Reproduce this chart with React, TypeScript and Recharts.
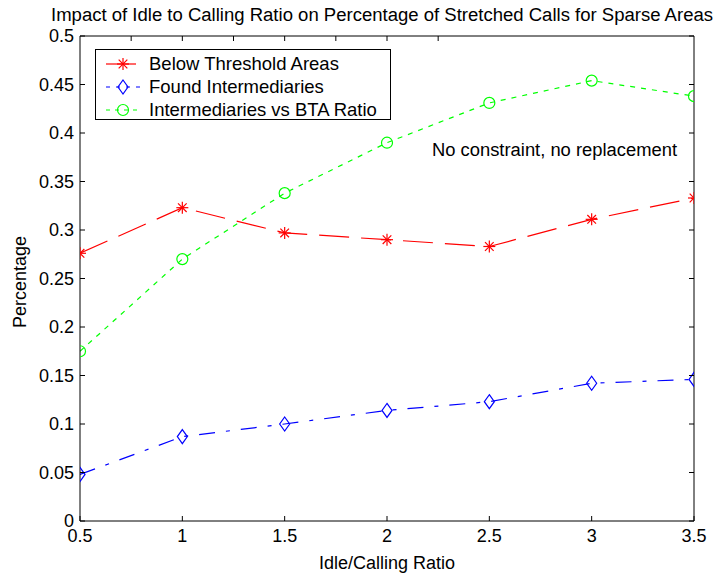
import React from "react";
import { LineChart, Line, XAxis, YAxis, Legend } from "recharts";

const ratios = [0.5, 1, 1.5, 2, 2.5, 3, 3.5];
const belowThreshold = [0.276, 0.323, 0.297, 0.29, 0.283, 0.311, 0.333];
const foundIntermediaries = [0.048, 0.087, 0.1, 0.114, 0.123, 0.142, 0.146];
const btaRatio = [0.175, 0.27, 0.338, 0.39, 0.431, 0.454, 0.438];

const xTicks = [0.5, 1, 1.5, 2, 2.5, 3, 3.5];
const yTicks = [0, 0.05, 0.1, 0.15, 0.2, 0.25, 0.3, 0.35, 0.4, 0.45, 0.5];

const seriesNames = ["Below Threshold Areas", "Found Intermediaries", "Intermediaries vs BTA Ratio"];

const chartData = ratios.map((r, i) => ({
  ratio: r,
  below: belowThreshold[i],
  found: foundIntermediaries[i],
  bta: btaRatio[i],
}));

const FONT = '"Liberation Sans", Arial, Helvetica, sans-serif';
const INK = "#000";
const FS = 18;

const RED = "#ff0000";
const BLUE = "#0000ff";
const GREEN = "#00ff00";

// matlab style: ticks point inward, labels only on bottom/left
function BottomTick({ x, y, payload }: any) {
  return (
    <g>
      <line x1={x} y1={y} x2={x} y2={y - 5} stroke={INK} />
      <text x={x} y={y + 21} textAnchor="middle" fontSize={FS} fill={INK} fontFamily={FONT}>
        {payload.value}
      </text>
    </g>
  );
}

function TopTick({ x, y }: any) {
  return <line x1={x} y1={y} x2={x} y2={y + 5} stroke={INK} />;
}

function LeftTick({ x, y, payload }: any) {
  return (
    <g>
      <line x1={x} y1={y} x2={x + 5} y2={y} stroke={INK} />
      <text x={x - 6} y={y + 6} textAnchor="end" fontSize={FS} fill={INK} fontFamily={FONT}>
        {payload.value}
      </text>
    </g>
  );
}

function RightTick({ x, y }: any) {
  return <line x1={x} y1={y} x2={x - 5} y2={y} stroke={INK} />;
}

function Asterisk({ cx, cy, r = 6 }: any) {
  if (cx == null || cy == null) return null;
  const d = r * 0.72;
  return (
    <g stroke={RED} strokeWidth={1.2}>
      <line x1={cx - r} y1={cy} x2={cx + r} y2={cy} />
      <line x1={cx} y1={cy - r} x2={cx} y2={cy + r} />
      <line x1={cx - d} y1={cy - d} x2={cx + d} y2={cy + d} />
      <line x1={cx - d} y1={cy + d} x2={cx + d} y2={cy - d} />
    </g>
  );
}

function Diamond({ cx, cy }: any) {
  if (cx == null || cy == null) return null;
  return (
    <polygon
      points={`${cx},${cy - 7} ${cx + 5},${cy} ${cx},${cy + 7} ${cx - 5},${cy}`}
      fill="none"
      stroke={BLUE}
      strokeWidth={1.2}
    />
  );
}

function Ring({ cx, cy }: any) {
  if (cx == null || cy == null) return null;
  return <circle cx={cx} cy={cy} r={5.5} fill="none" stroke={GREEN} strokeWidth={1.2} />;
}

const legendRows = [
  { name: seriesNames[0], color: RED, dash: "30 12", Marker: Asterisk },
  { name: seriesNames[1], color: BLUE, dash: "4 6", Marker: Diamond },
  { name: seriesNames[2], color: GREEN, dash: "4 5", Marker: Ring },
];

function LegendBox() {
  return (
    <div
      style={{
        border: `1px solid ${INK}`,
        background: "#fff",
        width: 296,
        height: 71,
        boxSizing: "border-box",
        paddingTop: 2,
        fontFamily: FONT,
        fontSize: 18.5,
        color: INK,
      }}
    >
      {legendRows.map((row) => (
        <div key={row.name} style={{ display: "flex", alignItems: "center", height: 23, whiteSpace: "nowrap" }}>
          <svg width={53} height={20} style={{ flex: "none" }}>
            <line x1={10} y1={10} x2={44} y2={10} stroke={row.color} strokeWidth={1.2} strokeDasharray={row.dash} />
            <row.Marker cx={27} cy={10} r={6} />
          </svg>
          <span>{row.name}</span>
        </div>
      ))}
    </div>
  );
}

export default function App() {
  return (
    <div style={{ position: "absolute", left: 0, top: 0, width: 718, height: 575, background: "#fff" }}>
      <LineChart width={718} height={575} data={chartData} margin={{ top: 0, right: 0, bottom: 0, left: 0 }}>
        <XAxis
          dataKey="ratio"
          type="number"
          domain={[0.5, 3.5]}
          ticks={xTicks}
          interval={0}
          height={54}
          tickSize={0}
          tickMargin={0}
          axisLine={{ stroke: INK }}
          tick={<BottomTick />}
          allowDataOverflow
        />
        <XAxis
          xAxisId="top"
          orientation="top"
          type="number"
          domain={[0.5, 3.5]}
          ticks={xTicks}
          interval={0}
          height={36}
          tickSize={0}
          tickMargin={0}
          axisLine={{ stroke: INK }}
          tick={<TopTick />}
          allowDataOverflow
        />
        <YAxis
          type="number"
          domain={[0, 0.5]}
          ticks={yTicks}
          interval={0}
          width={80}
          tickSize={0}
          tickMargin={0}
          axisLine={{ stroke: INK }}
          tick={<LeftTick />}
          allowDataOverflow
        />
        <YAxis
          yAxisId="right"
          orientation="right"
          type="number"
          domain={[0, 0.5]}
          ticks={yTicks}
          interval={0}
          width={24}
          tickSize={0}
          tickMargin={0}
          axisLine={{ stroke: INK }}
          tick={<RightTick />}
          allowDataOverflow
        />
        <Legend
          layout="vertical"
          align="center"
          verticalAlign="middle"
          content={<LegendBox />}
          wrapperStyle={{ left: 95, top: 49, width: 296, height: 71 }}
        />
        <Line
          dataKey="below"
          name={seriesNames[0]}
          stroke={RED}
          strokeWidth={1.2}
          strokeDasharray="30 12"
          dot={(p: any) => <Asterisk key={`a${p.index}`} cx={p.cx} cy={p.cy} />}
          activeDot={false}
          isAnimationActive={false}
        />
        <Line
          dataKey="found"
          name={seriesNames[1]}
          stroke={BLUE}
          strokeWidth={1.2}
          strokeDasharray="16 11 4 11"
          dot={(p: any) => <Diamond key={`d${p.index}`} cx={p.cx} cy={p.cy} />}
          activeDot={false}
          isAnimationActive={false}
        />
        <Line
          dataKey="bta"
          name={seriesNames[2]}
          stroke={GREEN}
          strokeWidth={1.2}
          strokeDasharray="5 6"
          dot={(p: any) => <Ring key={`r${p.index}`} cx={p.cx} cy={p.cy} />}
          activeDot={false}
          isAnimationActive={false}
        />
      </LineChart>
      <svg
        width={718}
        height={575}
        style={{ position: "absolute", left: 0, top: 0, pointerEvents: "none" }}
      >
        <text
          x={382}
          y={21}
          textAnchor="middle"
          fontSize={18}
          textLength={662}
          lengthAdjust="spacingAndGlyphs"
          fill={INK}
          fontFamily={FONT}
        >
          Impact of Idle to Calling Ratio on Percentage of Stretched Calls for Sparse Areas
        </text>
        <text
          x={432}
          y={156}
          fontSize={18}
          textLength={245}
          lengthAdjust="spacingAndGlyphs"
          fill={INK}
          fontFamily={FONT}
        >
          No constraint, no replacement
        </text>
        <text x={387} y={569} textAnchor="middle" fontSize={18} fill={INK} fontFamily={FONT}>
          Idle/Calling Ratio
        </text>
        <text
          x={0}
          y={0}
          transform="translate(26 282) rotate(-90)"
          textAnchor="middle"
          fontSize={18}
          fill={INK}
          fontFamily={FONT}
        >
          Percentage
        </text>
      </svg>
    </div>
  );
}
